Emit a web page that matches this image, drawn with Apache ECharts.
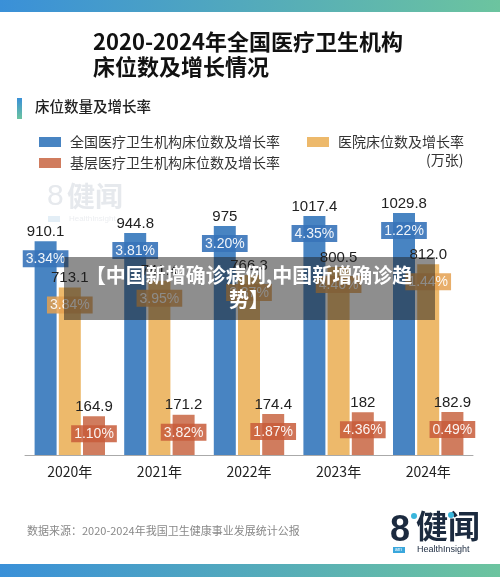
<!DOCTYPE html>
<html>
<head>
<meta charset="utf-8">
<script src="https://cdn.jsdelivr.net/npm/echarts@6/dist/echarts.min.js"></script>
<style>
  html, body { margin: 0; padding: 0; background: #fff; }
  #main { width: 500px; height: 577px; }
</style>
</head>
<body>
<div id="main"></div>
<script>
// 床位数 (万张)
var years = ['2020年', '2021年', '2022年', '2023年', '2024年'];
var totalBeds = [910.1, 944.8, 975, 1017.4, 1029.8];
var hospitalBeds = [713.1, 741.4, 766.3, 800.5, 812.0];
var primaryBeds = [164.9, 171.2, 174.4, 182, 182.9];
// 增长率 (%)
var totalGrowth = [3.34, 3.81, 3.20, 4.35, 1.22];
var hospitalGrowth = [3.84, 3.95, 3.37, 4.46, 1.44];
var primaryGrowth = [1.10, 3.82, 1.87, 4.36, 0.49];

var seriesNames = ['全国医疗卫生机构床位数及增长率', '医院床位数及增长率', '基层医疗卫生机构床位数及增长率'];

var chart = echarts.init(document.getElementById('main'));

var cjk = '"Noto Sans CJK SC", "Noto Sans", sans-serif';
var num = '"Liberation Sans", Arial, sans-serif';

function valueSeries(name, data, color, fmt) {
    return {
        name: name,
        type: 'bar',
        xAxisIndex: 0,
        barWidth: 22,
        barGap: '10%',
        data: data,
        itemStyle: { color: color },
        label: {
            show: true,
            position: 'top',
            distance: 2,
            fontFamily: num,
            fontSize: 15,
            color: '#222',
            formatter: fmt || function (p) { return p.value; }
        }
    };
}

function growthSeries(data, growth, bg) {
    return {
        type: 'bar',
        xAxisIndex: 1,
        barWidth: 22,
        barGap: '10%',
        silent: true,
        data: data,
        itemStyle: { color: 'rgba(0,0,0,0)' },
        label: {
            show: true,
            position: 'insideTop',
            distance: 9,
            fontFamily: num,
            fontSize: 14,
            color: 'rgba(255,255,255,0.92)',
            backgroundColor: bg,
            padding: [2, 3, 1, 3],
            formatter: function (p) { return growth[p.dataIndex].toFixed(2) + '%'; }
        }
    };
}

function legendAt(name, left, top) {
    return {
        data: [name], left: left, top: top,
        itemWidth: 22, itemHeight: 10, icon: 'rect', selectedMode: false,
        textStyle: { fontFamily: cjk, fontSize: 14, color: '#333', padding: [0, 0, 0, 4] }
    };
}

var option = {
    animation: false,
    backgroundColor: '#fff',
    grid: { left: 25, right: 27, top: 173, bottom: 122 },
    legend: [
        legendAt(seriesNames[0], 34, 130),
        legendAt(seriesNames[1], 302, 130),
        legendAt(seriesNames[2], 34, 151)
    ],
    xAxis: [
        {
            type: 'category',
            data: years,
            axisLine: { lineStyle: { color: '#aaa', width: 1 } },
            axisTick: { show: false },
            axisLabel: { fontFamily: cjk, fontSize: 14, color: '#222', margin: 10 }
        },
        {
            type: 'category',
            data: years,
            show: false
        }
    ],
    yAxis: {
        type: 'value',
        min: 0,
        max: 1200,
        show: false
    },
    series: [
        valueSeries(seriesNames[0], totalBeds, '#4884c2'),
        valueSeries(seriesNames[1], hospitalBeds, '#edb96b', function (p) { return p.value.toFixed(1); }),
        valueSeries(seriesNames[2], primaryBeds, '#d07c5e'),
        growthSeries(totalBeds, totalGrowth, 'rgba(55,115,185,0.9)'),
        growthSeries(hospitalBeds, hospitalGrowth, 'rgba(228,160,80,0.85)'),
        growthSeries(primaryBeds, primaryGrowth, 'rgba(200,92,58,0.85)')
    ],
    graphic: [
        // 顶部和底部渐变条
        {
            type: 'rect', left: 0, top: 0, shape: { width: 500, height: 12 },
            style: { fill: new echarts.graphic.LinearGradient(0, 0, 1, 0, [
                { offset: 0, color: '#3a90d8' }, { offset: 1, color: '#6cc49f' }]) }
        },
        {
            type: 'rect', left: 0, top: 564, shape: { width: 500, height: 13 },
            style: { fill: new echarts.graphic.LinearGradient(0, 0, 1, 0, [
                { offset: 0, color: '#3a90d8' }, { offset: 1, color: '#6cc49f' }]) }
        },
        // 标题
        {
            type: 'text', left: 93, top: 31,
            style: { text: '2020-2024年全国医疗卫生机构', font: 'bold 22px ' + cjk, fill: '#111' }
        },
        {
            type: 'text', left: 93, top: 56,
            style: { text: '床位数及增长情况', font: 'bold 22px ' + cjk, fill: '#111' }
        },
        {
            type: 'rect', left: 17, top: 98, shape: { width: 5, height: 21 },
            style: { fill: new echarts.graphic.LinearGradient(0, 0, 0, 1, [
                { offset: 0, color: '#3a90d8' }, { offset: 1, color: '#6cc49f' }]) }
        },
        {
            type: 'text', left: 35, top: 99,
            style: { text: '床位数量及增长率', font: '500 14.5px ' + cjk, fill: '#222' }
        },
        {
            type: 'text', left: 426, top: 153,
            style: { text: '(万张)', font: '14px ' + cjk, fill: '#333' }
        },
        // 水印 logo
        {
            type: 'group', left: 47, top: 182,
            children: [
                { type: 'text', x: 0, y: 0, style: { text: '8', font: '30px ' + num, fill: '#e6e9ed' } },
                { type: 'text', x: 20, y: 0, style: { text: '健闻', font: 'bold 28px ' + cjk, fill: '#e6e9ed' } },
                { type: 'text', x: 22, y: 33, style: { text: 'HealthInsight', font: '8px ' + num, fill: '#eceef1' } },
                { type: 'rect', shape: { x: 1, y: 34, width: 12, height: 6 }, style: { fill: '#e3eef6' } }
            ]
        },
        // 数据来源
        {
            type: 'text', left: 27, top: 525,
            style: { text: '数据来源：2020-2024年我国卫生健康事业发展统计公报', font: '11px ' + cjk, fill: '#888' }
        },
        // 右下 logo
        {
            type: 'group', left: 390, top: 510,
            children: [
                { type: 'text', x: 0, y: 3, style: { text: '8', font: 'bold 36px ' + num, fill: '#1b2a3f' } },
                { type: 'circle', shape: { cx: 24, cy: 6, r: 3 }, style: { fill: '#3ab6dc' } },
                { type: 'text', x: 26, y: 0, style: { text: '健闻', font: 'bold 32px ' + cjk, fill: '#1b2a3f' } },
                { type: 'circle', shape: { cx: 61, cy: 5, r: 3 }, style: { fill: '#3ab6dc' } },
                { type: 'rect', shape: { x: 3, y: 37, width: 12, height: 6 }, style: { fill: '#3aa7dc' } },
                { type: 'text', x: 5, y: 37.5, style: { text: 'am', font: '5px ' + num, fill: '#fff' } },
                { type: 'text', x: 27, y: 35, style: { text: 'HealthInsight', font: '9px ' + num, fill: '#1b2a3f' } }
            ]
        },
        // 半透明遮罩文字
        {
            type: 'rect', left: 64, top: 257, z: 100, shape: { width: 371, height: 63 },
            style: { fill: 'rgba(30,30,30,0.5)' }
        },
        {
            type: 'text', x: 249, y: 263, z: 101,
            style: {
                text: '【中国新增确诊病例,中国新增确诊趋\n势】',
                font: 'bold 20px ' + cjk, fill: '#fff',
                align: 'center', verticalAlign: 'top', lineHeight: 24
            }
        }
    ]
};

chart.setOption(option);
</script>
</body>
</html>
